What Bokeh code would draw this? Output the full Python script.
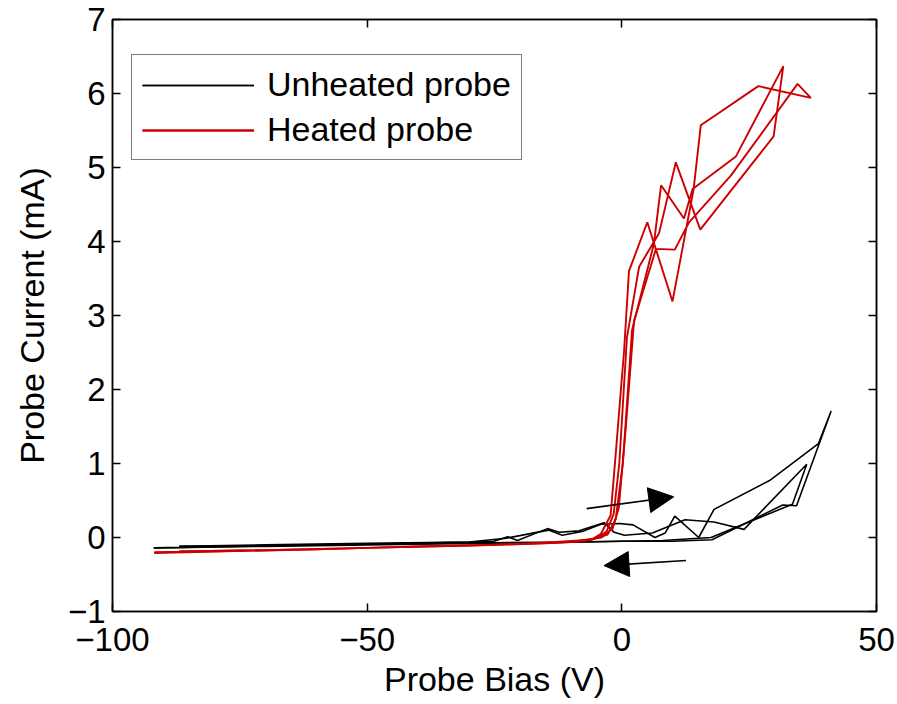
from bokeh.plotting import figure
from bokeh.models import (ColumnDataSource, Arrow, NormalHead, FixedTicker, LinearAxis,
                          CustomJSTickFormatter, Range1d)
from bokeh.embed import file_html
from bokeh.resources import INLINE

# ---- data ----
unheated1_x = [-91.9, -70, -50, -30, -22.7, -14.4, -11.7, -7.8, -4.1, -0.5, 2.2, 6.5, 8.5, 10.4, 15.1, 18.1,
               29.0, 38.6, 41.1, 34.3, 31.6, 17.7, 10, 0, -10, -25, -50, -70, -86.9]
unheated1_y = [-0.14, -0.11, -0.09, -0.06, -0.01, 0.10, 0.03, 0.08, 0.18, 0.19, 0.17, 0.0, 0.06, 0.29, 0.0, 0.38,
               0.77, 1.27, 1.71, 0.43, 0.44, -0.03, -0.05, -0.05, -0.06, -0.07, -0.09, -0.11, -0.12]
unheated2_x = [-86.9, -70, -50, -30, -25.1, -22.4, -20.5, -14.6, -12.3, -8.4, -3.5, -1.5, 0.5, 6.0, 12.4, 18.1,
               24.0, 36.3, 33.5, 17.5, 8, 0, -15, -30, -50, -70, -91.9]
unheated2_y = [-0.12, -0.10, -0.08, -0.06, -0.05, 0.01, -0.04, 0.12, 0.07, 0.09, 0.2, 0.07, 0.03, 0.06, 0.24, 0.21,
               0.11, 0.99, 0.45, 0.0, -0.04, -0.05, -0.07, -0.08, -0.10, -0.12, -0.14]

heated1_x = [-91.8, -80, -60, -40, -20, -10, -6, -4.1, -2.2, -1.0, 0.45, 1.4, 5.0, 9.95, 14.1, 15.5, 26.8, 37.1,
             34.5, 21.4, 13.2, 10.4, 6.7, 2.4, 0.8, -0.6, -1.8, -4, -10, -30, -50, -70, -86.9]
heated1_y = [-0.21, -0.19, -0.16, -0.12, -0.09, -0.06, -0.03, 0.05, 0.3, 1.3, 2.53, 3.60, 4.26, 3.19, 4.71, 5.57,
             6.10, 5.94, 6.13, 4.89, 4.26, 3.89, 3.90, 2.93, 1.5, 0.4, 0.12, 0.0, -0.06, -0.11, -0.14, -0.17, -0.19]
heated2_x = [-86.9, -70, -50, -30, -15, -8, -5, -3, -1.6, -0.5, 1.0, 3.4, 7.3, 10.6, 15.4, 29.8, 31.7, 22.4,
             13.9, 12.2, 7.7, 6.3, 2.0, 0.2, -1.2, -2.8, -6, -20, -40, -60, -91.8]
heated2_y = [-0.19, -0.17, -0.14, -0.11, -0.08, -0.05, -0.01, 0.08, 0.32, 1.0, 2.7, 3.66, 4.11, 5.07, 4.16, 5.42,
             6.37, 5.15, 4.71, 4.31, 4.76, 3.97, 2.8, 1.0, 0.25, 0.04, -0.03, -0.09, -0.12, -0.16, -0.20]

arrow_x_start = [-6.9, 12.6]
arrow_y_start = [0.39, -0.31]
arrow_x_end = [10.2, -3.5]
arrow_y_end = [0.55, -0.38]

x_ticks = [-100, -50, 0, 50]
y_ticks = [-1, 0, 1, 2, 3, 4, 5, 6, 7]

FONT = "Liberation Sans"
TICK_FS = "33px"
LABEL_FS = "34px"
RED = "#cc0000"

p = figure(width=897, height=704, output_backend="svg", toolbar_location=None,
           x_range=Range1d(-100, 50), y_range=Range1d(-1, 7),
           min_border_left=112, min_border_right=21, min_border_top=19, min_border_bottom=93)
p.background_fill_color = "white"
p.border_fill_color = "white"
p.grid.visible = False
p.outline_line_color = "black"
p.outline_line_width = 1.5

fmt = CustomJSTickFormatter(code="return tick < 0 ? '\\u2212' + Math.abs(tick) : String(tick);")
blank = CustomJSTickFormatter(code="return '';")

for ax in p.xaxis + p.yaxis:
    ax.major_tick_in = 8
    ax.major_tick_out = 0
    ax.minor_tick_line_color = None
    ax.axis_line_width = 1.5
    ax.major_tick_line_width = 1.5
    ax.major_label_text_font = FONT
    ax.major_label_text_font_size = TICK_FS
    ax.major_label_text_color = "black"
    ax.axis_label_text_font = FONT
    ax.axis_label_text_font_size = LABEL_FS
    ax.axis_label_text_font_style = "normal"
    ax.axis_label_text_color = "black"
    ax.formatter = fmt

p.xaxis.ticker = FixedTicker(ticks=x_ticks)
p.yaxis.ticker = FixedTicker(ticks=y_ticks)
p.xaxis.axis_label = "Probe Bias (V)"
p.yaxis.axis_label = "Probe Current (mA)"
p.xaxis.major_label_standoff = 16
p.xaxis.axis_label_standoff = 6
p.yaxis.major_label_standoff = 7
p.yaxis.axis_label_standoff = 14

# mirrored ticks on top and right (MATLAB box style)
top = LinearAxis(ticker=FixedTicker(ticks=x_ticks), formatter=blank, major_label_text_font_size="1px",
                 major_tick_in=8, major_tick_out=0, minor_tick_line_color=None, major_label_standoff=0,
                 axis_line_width=1.5, major_tick_line_width=1.5)
right = LinearAxis(ticker=FixedTicker(ticks=y_ticks), formatter=blank, major_label_text_font_size="1px",
                   major_tick_in=8, major_tick_out=0, minor_tick_line_color=None, major_label_standoff=0,
                   axis_line_width=1.5, major_tick_line_width=1.5)
p.add_layout(top, "above")
p.add_layout(right, "right")

p.line(unheated1_x, unheated1_y, line_color="black", line_width=1.6, legend_label="Unheated probe")
p.line(unheated2_x, unheated2_y, line_color="black", line_width=1.6, legend_label="Unheated probe")
p.line(heated1_x, heated1_y, line_color=RED, line_width=1.9, legend_label="Heated probe")
p.line(heated2_x, heated2_y, line_color=RED, line_width=1.9, legend_label="Heated probe")

asrc = ColumnDataSource(dict(xs=arrow_x_start, ys=arrow_y_start, xe=arrow_x_end, ye=arrow_y_end))
p.add_layout(Arrow(source=asrc, x_start="xs", y_start="ys", x_end="xe", y_end="ye",
                   line_color="black", line_width=1.6,
                   end=NormalHead(size=25, fill_color="black", fill_alpha=1.0,
                                  line_color="black", line_width=1)))

lg = p.legend[0]
lg.location = (19, 451)
lg.label_text_font = FONT
lg.label_text_font_size = LABEL_FS
lg.label_text_color = "black"
lg.border_line_color = "black"
lg.border_line_width = 1.5
lg.background_fill_alpha = 1
lg.padding = 10
lg.margin = 0
lg.spacing = 6
lg.glyph_width = 112
lg.label_standoff = 13
lg.glyph_height = 30
lg.label_height = 30

open("out.html", "w").write(file_html(p, INLINE))
